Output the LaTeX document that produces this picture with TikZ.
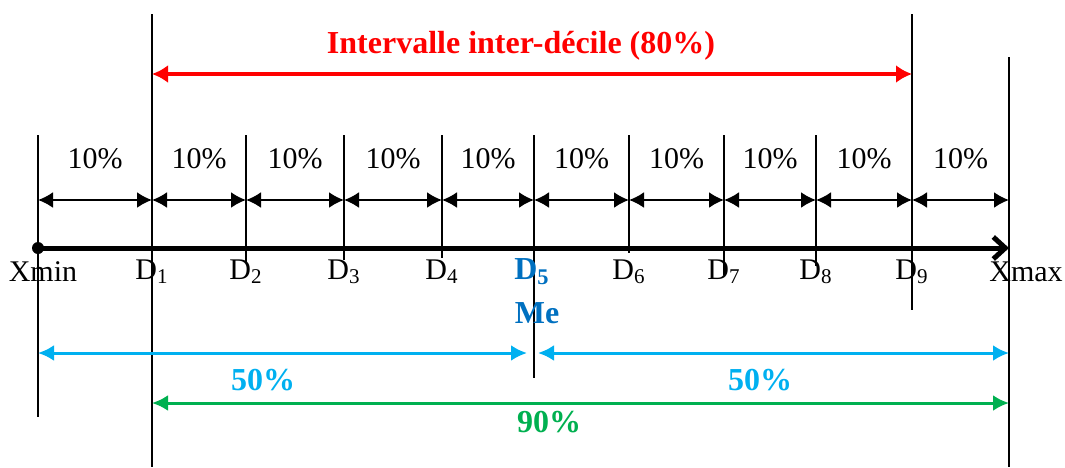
\documentclass[tikz,border=0pt]{standalone}
\usepackage{fontspec}
\setmainfont{Liberation Serif}
\usepackage{xcolor}
\usetikzlibrary{arrows.meta}
\definecolor{interred}{RGB}{255,0,0}
\definecolor{halfcyan}{RGB}{0,176,240}
\definecolor{ninetygreen}{RGB}{0,176,80}
\definecolor{medblue}{RGB}{0,112,192}

\begin{document}
\begin{tikzpicture}[x=0.5pt, y=-0.5pt,
  tick/.style={line width=0.75pt},
  lab/.style={font=\fontsize{15}{18}\selectfont, inner sep=0pt},
  blab/.style={font=\fontsize{16}{19}\selectfont\bfseries, inner sep=0pt},
  dec/.style={line width=1pt, {Latex[length=7.5pt,width=8pt]}-{Latex[length=7.5pt,width=8pt]}},
  span/.style={line width=1.5pt, {Latex[length=8pt,width=8pt]}-{Latex[length=8pt,width=8pt]}},
  >=Latex]
\useasboundingbox (0,0) rectangle (1065,467);
\foreach \i/\x/\yt/\yb in {0/38/135/417, 1/152/14/467, 2/246/135/262, 3/344/135/260,
    4/442/135/258, 5/534/135/378, 6/629/135/253, 7/724/135/275, 8/816/135/266,
    9/912/14/310, 10/1009/57/467}{
  \draw[tick] (\x,\yt) -- (\x,\yb);
  \coordinate (a\i) at (\x,200);
  \coordinate (t\i) at (\x,248);
}
\foreach \i [evaluate=\i as \j using int(\i+1)] in {0,...,9}
  \draw[dec] (a\i) -- (a\j) node[lab, midway, yshift=20.5pt] (p\i) {10\%};

\fill (t0) circle (3pt);
\draw[line width=2.5pt, -{Straight Barb[length=6pt,width=11pt]}] (t0) -- (t10);

\node[lab] (xmin) at (43,272) {Xmin};
\foreach \i/\x in {1/152, 2/246, 3/344, 4/442, 6/629, 7/724, 8/816, 9/912}
  \node[lab] (d\i) at (\x,272) {D\textsubscript{\i}};
\node[lab] (xmax) at (1026,272) {Xmax};
\node[blab, text=medblue] (d5) at (532,272) {D\textsubscript{5}};
\node[blab, text=medblue] (me) at (537,313) {Me};

\coordinate (r1) at (152,74);
\coordinate (r2) at (912,74);
\draw[interred, line width=2pt, {Latex[length=8pt,width=9pt]}-{Latex[length=8pt,width=9pt]}] (r1) -- (r2);
\node[blab, text=interred] (inter) at (521,46) {Intervalle inter-décile (80\%)};

\coordinate (c1) at (38,353);
\coordinate (c2) at (527,353);
\coordinate (c3) at (538,353);
\coordinate (c4) at (1009,353);
\draw[span, halfcyan] (c1) -- (c2);
\draw[span, halfcyan] (c3) -- (c4);
\node[blab, text=halfcyan] (h1) at (263,380) {50\%};
\node[blab, text=halfcyan] (h2) at (760,380) {50\%};

\coordinate (g1) at (152,403);
\coordinate (g2) at (1009,403);
\draw[span, ninetygreen] (g1) -- (g2);
\node[blab, text=ninetygreen] (ninety) at (549,422) {90\%};
\end{tikzpicture}
\end{document}
